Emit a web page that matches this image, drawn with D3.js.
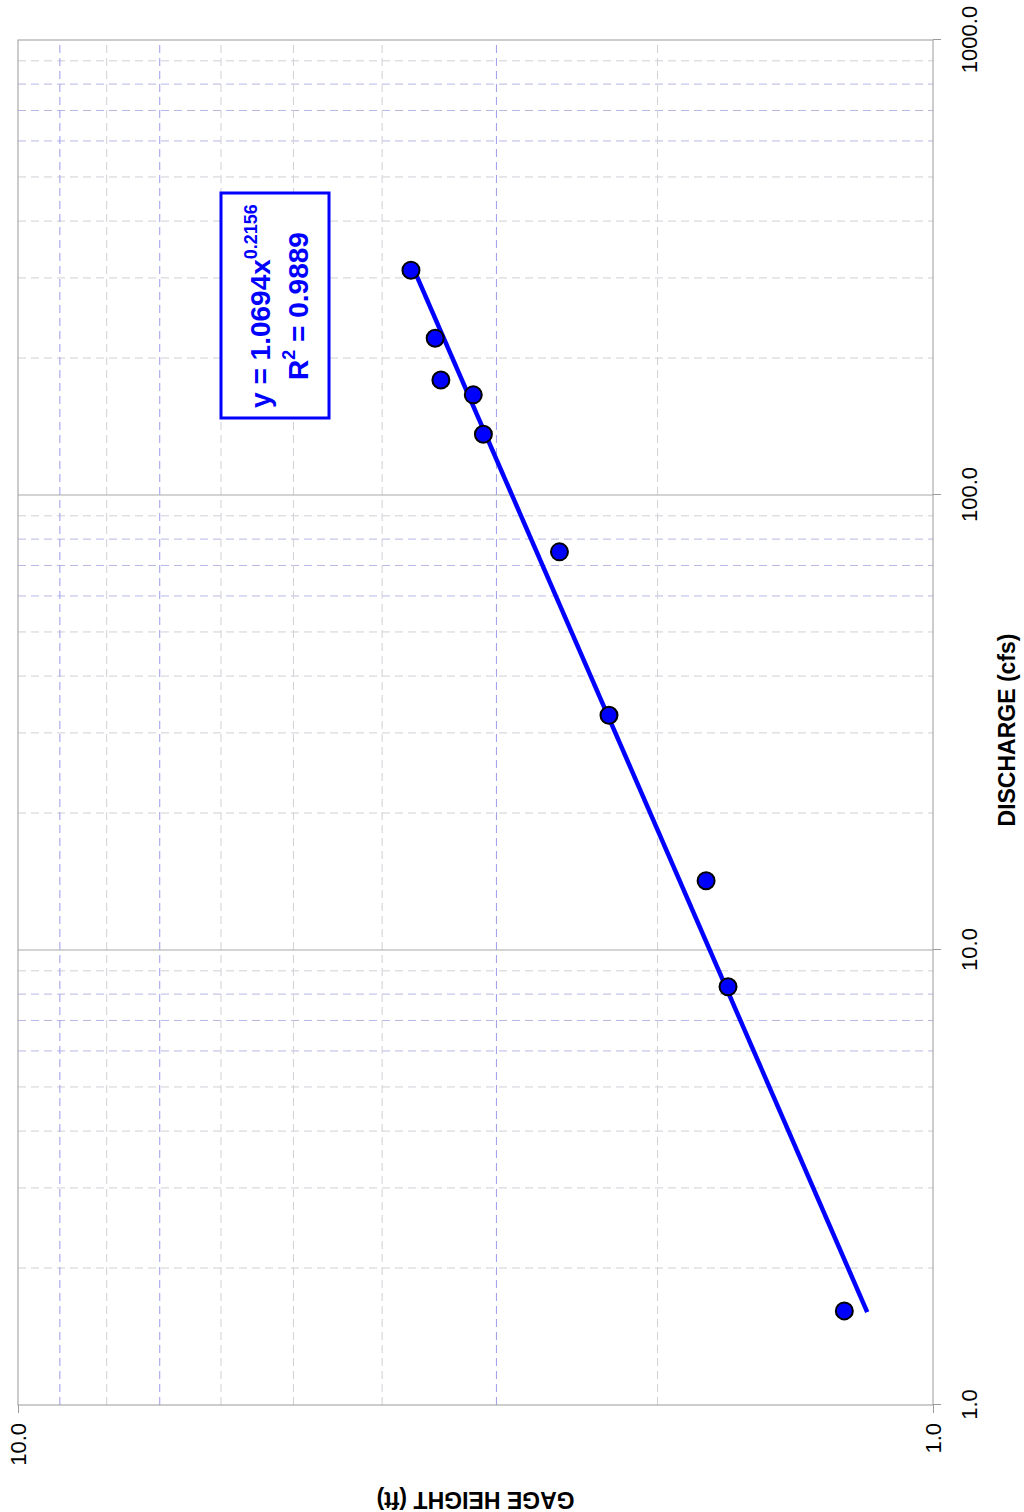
<!DOCTYPE html>
<html>
<head>
<meta charset="utf-8">
<script src="https://cdn.jsdelivr.net/npm/d3@7"></script>
<style>
  body { margin: 0; background: #fff; }
  text { font-family: "Liberation Sans", Arial, sans-serif; }
</style>
</head>
<body>
<script>
let discharge = [312, 221, 179, 166, 136, 75, 32.8, 14.2, 8.3, 1.61];
let gageHeight = [3.72, 3.50, 3.45, 3.18, 3.10, 2.56, 2.26, 1.77, 1.675, 1.25];

// power trendline end points
let trendDischarge = [1.6, 312];
let trendGage = [1.18, 3.69];

let dischargeTicks = [1, 10, 100, 1000];
let gageTicks = [1, 10];
let equationText = ["y = 1.0694x", "0.2156"];
let rSquaredText = ["R", "2", " = 0.9889"];

let W = 1512, H = 1024;   // chart is drawn sideways, then turned

let svg = d3.select("body").append("svg")
    .attr("width", 1024)
    .attr("height", 1512);

svg.append("rect").attr("width", 1024).attr("height", 1512).attr("fill", "#fff");

let g = svg.append("g")
    .attr("transform", `translate(0,${W}) rotate(-90)`);

let x = d3.scaleLog().domain([1, 1000]).range([107, 1472]);
let y = d3.scaleLog().domain([1, 10]).range([933, 18]);

let isMajor = v => Math.abs(Math.log10(v) - Math.round(Math.log10(v))) < 1e-9;
let lead = v => Math.round(v / Math.pow(10, Math.floor(Math.log10(v) + 1e-9)));

//minor grid
let grid = g.append("g").attr("class", "grid");
grid.selectAll("line.qminor")
    .data(x.ticks().filter(v => !isMajor(v)))
    .enter().append("line")
    .attr("class", "qminor")
    .attr("x1", d => x(d)).attr("x2", d => x(d))
    .attr("y1", y(10)).attr("y2", y(1))
    .attr("stroke", d => [6, 7, 8].includes(lead(d)) ? "#b8b8e6" : "#d0d0d6")
    .attr("stroke-dasharray", "8,5");

grid.selectAll("line.gminor")
    .data(y.ticks().filter(v => !isMajor(v)))
    .enter().append("line")
    .attr("class", "gminor")
    .attr("y1", d => y(d)).attr("y2", d => y(d))
    .attr("x1", x(1)).attr("x2", x(1000))
    .attr("stroke", d => [3, 7, 9].includes(lead(d)) ? "#9c9cec" : "#d0d0d6")
    .attr("stroke-dasharray", "8,5");

//major grid
grid.selectAll("line.qmajor")
    .data([10, 100])
    .enter().append("line")
    .attr("x1", d => x(d)).attr("x2", d => x(d))
    .attr("y1", y(10)).attr("y2", y(1))
    .attr("stroke", "#a8a8a8");

g.append("rect")
    .attr("x", x(1)).attr("y", y(10))
    .attr("width", x(1000) - x(1)).attr("height", y(1) - y(10))
    .attr("fill", "none")
    .attr("stroke", "#9a9a9a");

//axes
let xAxis = g.append("g")
    .attr("transform", `translate(0,${y(1)})`)
    .call(d3.axisBottom(x).tickValues(dischargeTicks).tickFormat(d3.format(".1f"))
        .tickSize(8).tickPadding(20));
let yAxis = g.append("g")
    .attr("transform", `translate(${x(1)},0)`)
    .call(d3.axisLeft(y).tickValues(gageTicks).tickFormat(d3.format(".1f"))
        .tickSize(8).tickPadding(10));

for (let a of [xAxis, yAxis]) {
    a.select(".domain").remove();
    a.selectAll("line").attr("stroke", "#9a9a9a");
    a.selectAll("text").attr("font-size", 22).attr("fill", "#000")
        .style("font-family", "'Liberation Sans', Arial, sans-serif");
}

g.append("text")
    .attr("x", 782).attr("y", 1015)
    .attr("text-anchor", "middle")
    .attr("font-size", 23).attr("font-weight", "bold")
    .text("DISCHARGE (cfs)");

g.append("text")
    .attr("transform", `translate(20,${(y(1) + y(10)) / 2}) rotate(-90)`)
    .attr("text-anchor", "middle")
    .attr("font-size", 23).attr("font-weight", "bold")
    .text("GAGE HEIGHT (ft)");

//trendline
let trend = trendDischarge.map((q, i) => [q, trendGage[i]]);
g.append("path")
    .datum(trend)
    .attr("d", d3.line().x(d => x(d[0])).y(d => y(d[1])))
    .attr("stroke", "#0000ff")
    .attr("stroke-width", 4.5)
    .attr("fill", "none");

//points
g.append("g").selectAll("circle")
    .data(discharge.map((q, i) => ({q: q, h: gageHeight[i]})))
    .enter().append("circle")
    .attr("cx", d => x(d.q))
    .attr("cy", d => y(d.h))
    .attr("r", 8.5)
    .attr("fill", "#0000ff")
    .attr("stroke", "#000")
    .attr("stroke-width", 2);

//equation box
let box = g.append("g");
box.append("rect")
    .attr("x", 1094).attr("y", 221)
    .attr("width", 225).attr("height", 108)
    .attr("fill", "#fff")
    .attr("stroke", "#0000ff")
    .attr("stroke-width", 3);

let eq = box.append("text")
    .attr("x", 1206).attr("y", 270)
    .attr("text-anchor", "middle")
    .attr("font-size", 28).attr("font-weight", "bold")
    .attr("fill", "#0000ff");
eq.append("tspan").text(equationText[0]);
eq.append("tspan").attr("dy", -13).attr("font-size", 18).text(equationText[1]);

let r2 = box.append("text")
    .attr("x", 1206).attr("y", 308)
    .attr("text-anchor", "middle")
    .attr("font-size", 28).attr("font-weight", "bold")
    .attr("fill", "#0000ff");
r2.append("tspan").text(rSquaredText[0]);
r2.append("tspan").attr("dy", -13).attr("font-size", 18).text(rSquaredText[1]);
r2.append("tspan").attr("dy", 13).text(rSquaredText[2]);
</script>
</body>
</html>
